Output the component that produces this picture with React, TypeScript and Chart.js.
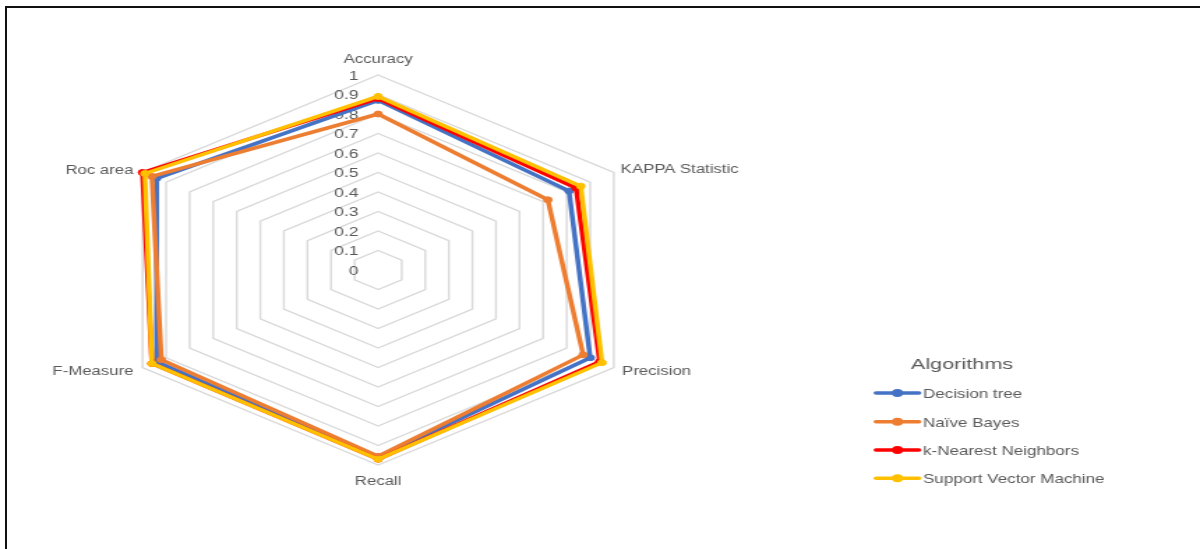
import { useEffect, useRef } from "react";
import { Chart, registerables } from "chart.js";

Chart.register(...registerables);

// ---- data ----
const categories = ["Accuracy", "KAPPA Statistic", "Precision", "Recall", "F-Measure", "Roc area"];
const seriesNames = ["Decision tree", "Naïve Bayes", "k-Nearest Neighbors", "Support Vector Machine"];
const decisionTree = [0.87, 0.81, 0.9, 0.96, 0.94, 0.94];
const naiveBayes = [0.8, 0.72, 0.87, 0.955, 0.92, 0.96];
const kNearest = [0.88, 0.84, 0.94, 0.97, 0.96, 1.0];
const svmValues = [0.89, 0.86, 0.95, 0.97, 0.96, 0.99];
const tickValues = [0, 0.1, 0.2, 0.3, 0.4, 0.5, 0.6, 0.7, 0.8, 0.9, 1];
const tickLabels = ["0", "0.1", "0.2", "0.3", "0.4", "0.5", "0.6", "0.7", "0.8", "0.9", "1"];
const legendTitle = "Algorithms";
const seriesColors = ["#4472C4", "#ED7D31", "#FF0000", "#FFC000"];

// internal canvas size (displayed stretched horizontally to 1200)
const W = 860;
const H = 549;
const SX = 1200 / W;
const FONT = "'Liberation Sans', Arial, sans-serif";
const TEXT = "#595959";

const overlayPlugin = {
  id: "overlay",
  beforeDatasetsDraw(chart: any) {
    const s = chart.scales.r;
    const ctx = chart.ctx;
    ctx.save();
    ctx.font = `12.5px ${FONT}`;
    ctx.fillStyle = TEXT;
    ctx.textAlign = "right";
    ctx.textBaseline = "middle";
    tickValues.forEach((v, i) => {
      const d = s.getDistanceFromCenterForValue(v);
      ctx.fillText(tickLabels[i], s.xCenter - 14, s.yCenter - d + 1.5);
    });
    ctx.restore();
  },
  afterDraw(chart: any) {
    const s = chart.scales.r;
    const ctx = chart.ctx;
    ctx.save();
    ctx.font = `12px ${FONT}`;
    ctx.fillStyle = TEXT;
    ctx.textBaseline = "middle";
    const offs = [
      { dx: 0, dy: -15, a: "center" },
      { dx: 5, dy: -3, a: "left" },
      { dx: 6, dy: 4, a: "left" },
      { dx: 0, dy: 16.5, a: "center" },
      { dx: -6.5, dy: 4, a: "right" },
      { dx: -6.5, dy: -1.5, a: "right" },
    ];
    categories.forEach((c, i) => {
      const p = s.getPointPosition(i, s.drawingArea);
      const o = offs[i];
      ctx.textAlign = o.a;
      ctx.fillText(c, p.x + o.dx, p.y + o.dy);
    });

    // legend
    ctx.font = `15.5px ${FONT}`;
    ctx.textAlign = "center";
    ctx.fillText(legendTitle, 962 / SX, 365);
    const rows = [393, 421.7, 450, 478.3];
    ctx.font = `12.2px ${FONT}`;
    ctx.textAlign = "left";
    seriesNames.forEach((n, i) => {
      const y = rows[i];
      ctx.strokeStyle = seriesColors[i];
      ctx.lineWidth = 3.5;
      ctx.lineCap = "round";
      ctx.beginPath();
      ctx.moveTo(876 / SX, y);
      ctx.lineTo(919 / SX, y);
      ctx.stroke();
      ctx.fillStyle = seriesColors[i];
      ctx.beginPath();
      ctx.arc(897.5 / SX, y, 4, 0, Math.PI * 2);
      ctx.fill();
      ctx.fillStyle = TEXT;
      ctx.fillText(n, 923 / SX, y + 1.5);
    });
    ctx.restore();
  },
};

export default function App() {
  const ref = useRef<HTMLCanvasElement | null>(null);

  useEffect(() => {
    if (!ref.current) return;
    const series = [decisionTree, naiveBayes, kNearest, svmValues];
    const chart = new Chart(ref.current, {
      type: "radar",
      data: {
        labels: categories,
        datasets: series.map((vals, i) => ({
          label: seriesNames[i],
          data: vals,
          borderColor: seriesColors[i],
          backgroundColor: seriesColors[i],
          pointBackgroundColor: seriesColors[i],
          pointBorderColor: seriesColors[i],
          borderWidth: 3.5,
          pointRadius: 3,
          pointBorderWidth: 1,
          borderJoinStyle: "round" as const,
          fill: false,
          order: 4 - i,
        })),
      },
      options: {
        animation: false,
        responsive: false,
        devicePixelRatio: 1,
        layout: { padding: { left: 76, top: 75, right: W - 76 - 390, bottom: H - 75 - 390 } },
        plugins: {
          legend: { display: false },
          tooltip: { enabled: false },
        },
        elements: { line: { tension: 0 } },
        scales: {
          r: {
            min: 0,
            max: 1,
            ticks: { display: false, stepSize: 0.1 },
            pointLabels: { display: false },
            angleLines: { display: false },
            grid: { color: "#D9D9D9", lineWidth: 1.4 },
          },
        },
      },
      plugins: [overlayPlugin],
    });
    return () => chart.destroy();
  }, []);

  return (
    <div style={{ position: "absolute", left: 0, top: 0, width: 1200, height: 549, overflow: "hidden", background: "#fff" }}>
      <div style={{ position: "absolute", left: 0, top: 0, width: W, height: H, transform: `scaleX(${SX})`, transformOrigin: "0 0" }}>
        <canvas ref={ref} width={W} height={H} style={{ display: "block" }} />
      </div>
      <div style={{ position: "absolute", left: 5, top: 6, width: 1195, height: 2, background: "#111" }} />
      <div style={{ position: "absolute", left: 5, top: 6, width: 2, height: 543, background: "#111" }} />
    </div>
  );
}
